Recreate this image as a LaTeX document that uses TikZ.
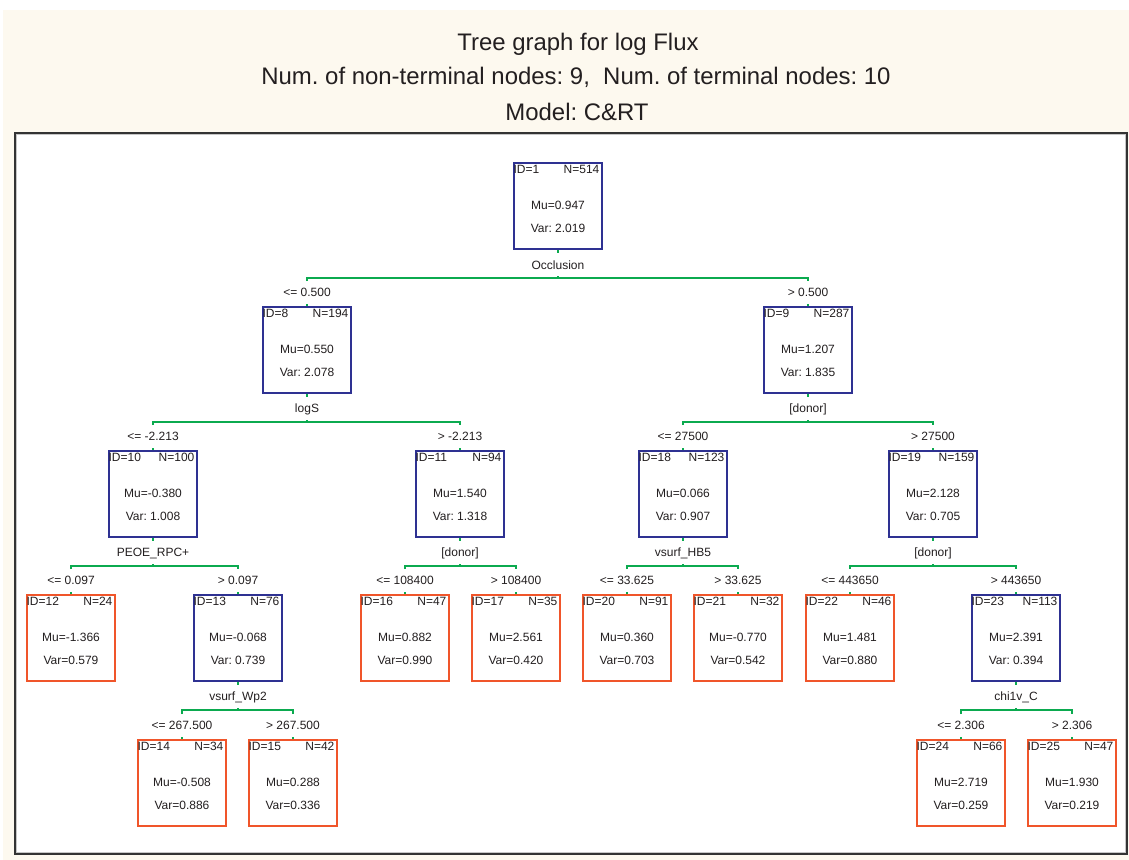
\documentclass[tikz,border=0pt]{standalone}
\usepackage{fontspec}
\setmainfont{Liberation Sans}
\usetikzlibrary{calc}
\frenchspacing
\definecolor{cream}{HTML}{FDF9EF}
\definecolor{nblue}{HTML}{2E3192}
\definecolor{norange}{HTML}{F0552A}
\definecolor{egreen}{HTML}{0BAA4F}
\definecolor{txt}{HTML}{231F20}
\definecolor{framec}{HTML}{333333}
\tikzset{
  boxbase/.style={line width=1.5pt, minimum width=65.5pt, minimum height=64.5pt, inner sep=0pt, anchor=north, fill=white},
  bluebox/.style={boxbase, draw=nblue},
  orangebox/.style={boxbase, draw=norange},
  txtsty/.style={inner sep=0pt, text=txt, font=\fontsize{9}{11}\selectfont},
  titlesty/.style={inner sep=0pt, text=txt, font=\fontsize{17.95}{20}\selectfont},
  edge/.style={draw=egreen, line width=1.5pt}
}
\newcommand\tn[8]{%
  \node[#4] (#1) at (#2,#3) {};
  \node[txtsty, anchor=west] (#1id) at ($(#1.north west)+(0,7)$) {ID=#5};
  \node[txtsty, anchor=east] (#1n) at ($(#1.north east)+(-3,7)$) {N=#6};
  \node[txtsty] (#1mu) at ($(#1.north)+(0,43)$) {Mu=#7};
  \node[txtsty] (#1var) at ($(#1.north)+(0,66)$) {#8};
}
\newcommand\spl[6]{%
  \draw[edge] (#1.south) -- ++(0,2.5);
  \node[txtsty] (#1lab) at ($(#1.south)+(0,15)$) {#4};
  \coordinate (#1bar) at ($(#1.south)+(0,28)$);
  \draw[edge] ($(#2.north)+(0,-25)$) |- (#1bar) -| ($(#3.north)+(0,-25)$);
  \draw[edge] (#1bar) -- ++(0,-2);
  \node[txtsty] (#2lab) at ($(#2.north)+(0,-14)$) {#5};
  \node[txtsty] (#3lab) at ($(#3.north)+(0,-14)$) {#6};
  \draw[edge] (#2.north) -- ++(0,-2.5);
  \draw[edge] (#3.north) -- ++(0,-2.5);
}
\begin{document}
\begin{tikzpicture}[x=0.75pt,y=-0.75pt]
\useasboundingbox (0,0) rectangle (1129,860);
\fill[white] (0,0) rectangle (1129,860);
\fill[cream] (3,10) rectangle (1129,860);
% titles
\node[titlesty] (t1) at (578,44) {Tree graph for log Flux};
\node[titlesty] (t2) at (576,77) {Num. of non-terminal nodes: 9,\ \ Num. of terminal nodes: 10};
\node[titlesty] (t3) at (577,112) {Model: C\&RT};
% frame
\fill[white] (15,133) rectangle (1127,854);
\draw[gray!45, line width=0.6pt] (16.8,134.8) rectangle (1125.2,852.2);
\draw[framec, line width=1.5pt] (15,133) rectangle (1127,854);
% nodes
\tn{n1}{558}{162}{bluebox}{1}{514}{0.947}{Var: 2.019}
\tn{n8}{307}{306}{bluebox}{8}{194}{0.550}{Var: 2.078}
\tn{n9}{808}{306}{bluebox}{9}{287}{1.207}{Var: 1.835}
\tn{n10}{153}{450}{bluebox}{10}{100}{-0.380}{Var: 1.008}
\tn{n11}{460}{450}{bluebox}{11}{94}{1.540}{Var: 1.318}
\tn{n18}{683}{450}{bluebox}{18}{123}{0.066}{Var: 0.907}
\tn{n19}{933}{450}{bluebox}{19}{159}{2.128}{Var: 0.705}
\tn{n12}{71}{594}{orangebox}{12}{24}{-1.366}{Var=0.579}
\tn{n13}{238}{594}{bluebox}{13}{76}{-0.068}{Var: 0.739}
\tn{n16}{405}{594}{orangebox}{16}{47}{0.882}{Var=0.990}
\tn{n17}{516}{594}{orangebox}{17}{35}{2.561}{Var=0.420}
\tn{n20}{627}{594}{orangebox}{20}{91}{0.360}{Var=0.703}
\tn{n21}{738}{594}{orangebox}{21}{32}{-0.770}{Var=0.542}
\tn{n22}{850}{594}{orangebox}{22}{46}{1.481}{Var=0.880}
\tn{n23}{1016}{594}{bluebox}{23}{113}{2.391}{Var: 0.394}
\tn{n14}{182}{739}{orangebox}{14}{34}{-0.508}{Var=0.886}
\tn{n15}{293}{739}{orangebox}{15}{42}{0.288}{Var=0.336}
\tn{n24}{961}{739}{orangebox}{24}{66}{2.719}{Var=0.259}
\tn{n25}{1072}{739}{orangebox}{25}{47}{1.930}{Var=0.219}
% splits
\spl{n1}{n8}{n9}{Occlusion}{<= 0.500}{> 0.500}
\spl{n8}{n10}{n11}{logS}{<= -2.213}{> -2.213}
\spl{n9}{n18}{n19}{[donor]}{<= 27500}{> 27500}
\spl{n10}{n12}{n13}{PEOE\_RPC+}{<= 0.097}{> 0.097}
\spl{n11}{n16}{n17}{[donor]}{<= 108400}{> 108400}
\spl{n18}{n20}{n21}{vsurf\_HB5}{<= 33.625}{> 33.625}
\spl{n19}{n22}{n23}{[donor]}{<= 443650}{> 443650}
\spl{n13}{n14}{n15}{vsurf\_Wp2}{<= 267.500}{> 267.500}
\spl{n23}{n24}{n25}{chi1v\_C}{<= 2.306}{> 2.306}
\end{tikzpicture}
\end{document}
